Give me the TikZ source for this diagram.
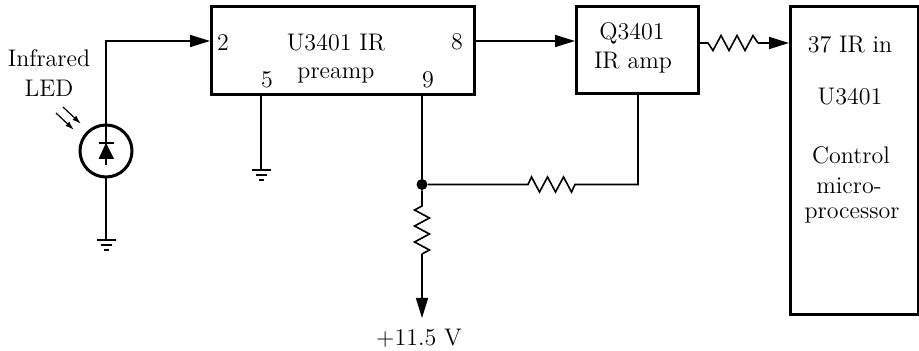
\documentclass[tikz,border=0pt]{standalone}
\usetikzlibrary{arrows.meta,calc}
\tikzset{
  px/.style={x=0.5pt,y=-0.5pt},
  wire/.style={line width=0.8pt,line join=miter},
  blockbox/.style={draw,line width=1.5pt,rectangle,inner sep=0pt,anchor=north west},
  lab/.style={inner sep=0pt,align=center,font=\fontsize{12}{14}\selectfont},
  bigtip/.style={-{Triangle[length=10pt,width=6pt]}},
  smalltip/.style={-{Latex[length=4.5pt,width=2.8pt]},line width=0.6pt},
  gnd/.style={line width=0.8pt},
}
\newcommand{\gndsym}[1]{%
  \draw[gnd] ($(#1)+(-9.5,0)$) -- ($(#1)+(9.5,0)$);
  \draw[gnd] ($(#1)+(-5.5,5)$) -- ($(#1)+(5.5,5)$);
  \draw[gnd] ($(#1)+(-2.5,10)$) -- ($(#1)+(2.5,10)$);
}
\begin{document}
\begin{tikzpicture}[px]
\useasboundingbox (0,0) rectangle (919,351);
% blocks
\node[blockbox,minimum width=131.5pt,minimum height=44pt] (U) at (210,5) {};
\node[blockbox,minimum width=61pt,minimum height=43.5pt] (Q) at (575,5) {};
\node[blockbox,minimum width=64pt,minimum height=154pt] (C) at (789,5) {};
% LED
\node[draw,circle,line width=1.5pt,minimum size=26pt,inner sep=0pt] (led) at (106,151) {};
% coordinates
\coordinate (Uin) at (210,41);
\coordinate (Uout) at (473,41);
\coordinate (Qin) at (575,41);
\coordinate (Qout) at (697,43);
\coordinate (Cin) at (789,43);
\coordinate (corner) at (106,41);
\coordinate (g1) at (106,240);
\coordinate (p5) at (261,93);
\coordinate (g2) at (261,170);
\coordinate (p9) at (422,93);
\coordinate (r1a) at (528,184.5);
\coordinate (r1b) at (575,184.5);
\coordinate (Qb) at (638,92);
\coordinate (qc) at (638,184.5);
\coordinate (r2a) at (422,206);
\coordinate (r2b) at (422,254);
\coordinate (vcc) at (422,318);
\coordinate (r3a) at (708,43);
\coordinate (r3b) at (758,43);
\node[fill,circle,minimum size=5.5pt,inner sep=0pt] (j) at (422,184.5) {};
% wires
\draw[wire] (led.south) -- (g1);
\draw[wire] (led.north) -- (106,165);
\draw[wire,bigtip] (106,124) -- (corner) -- (Uin);
\draw[wire,bigtip] (Uout) -- (Qin);
\draw[wire] (p5) -- (g2);
\draw[wire] (p9) -- (j);
\draw[wire] (j) -- (r1a)
  -- ++(3.5,-7.5) -- ++(8,15) -- ++(8,-15) -- ++(8,15) -- ++(8,-15) -- ++(8,15) -- ++(3.5,-7.5)
  -- (r1b) -- (qc) -- (Qb);
\draw[wire] (j) -- (r2a)
  -- ++(-7.5,4) -- ++(15,8) -- ++(-15,8) -- ++(15,8) -- ++(-15,8) -- ++(15,8) -- ++(-7.5,4);
\draw[wire,bigtip] (r2b) -- (vcc);
\draw[wire] (Qout) -- (r3a)
  -- ++(5,7.5) -- ++(8,-15) -- ++(8,15) -- ++(8,-15) -- ++(8,15) -- ++(8,-15) -- ++(5,7.5);
\draw[wire,bigtip] (r3b) -- (Cin);
% diode
\fill (106,143) -- (114,159) -- (98.5,159) -- cycle;
\draw[wire] (98.5,143) -- (114,143);
% light arrows
\coordinate (l1a) at (63,107); \coordinate (l1b) at (81,124);
\coordinate (l2a) at (56,113); \coordinate (l2b) at (74,130);
\draw[smalltip] (l1a) -- (l1b);
\draw[smalltip] (l2a) -- (l2b);
% grounds
\gndsym{g1}
\gndsym{g2}
% labels
\node[lab] (t1) at (49,58) {Infrared};
\node[lab] (t2) at (49,88) {LED};
\node[lab] (t3) at (223,43) {2};
\node[lab] (t4) at (336,43) {U3401 IR};
\node[lab] (t5) at (336,75) {preamp};
\node[lab] (t6) at (457,42) {8};
\node[lab] (t7) at (267,80) {5};
\node[lab] (t8) at (428,80) {9};
\node[lab] (t9) at (632,33) {Q3401};
\node[lab] (t10) at (633,63) {IR amp};
\node[lab] (t11) at (850,45) {37 IR in};
\node[lab] (t12) at (850,97) {U3401};
\node[lab] (t13) at (851,155) {Control};
\node[lab] (t14) at (849,186) {micro-};
\node[lab] (t15) at (852,215) {processor};
\node[lab] (t16) at (419,338) {+11.5 V};
\end{tikzpicture}
\end{document}
